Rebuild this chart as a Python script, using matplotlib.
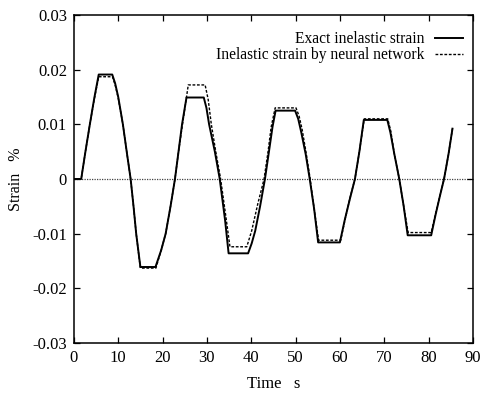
import numpy as np
import matplotlib.pyplot as plt

plt.rcParams['font.family'] = ['Liberation Serif', 'DejaVu Serif']

# exact inelastic strain (time s, strain %)
t_exact = [0.0, 1.65, 2.6, 3.6, 4.6, 5.6,
           8.65, 9.3, 10.0, 11.05, 12.0, 12.8, 13.45, 14.05, 15.0,
           18.4, 19.7, 20.7, 21.8, 22.8, 23.6, 24.4, 25.4,
           29.3, 29.9, 30.5, 31.8, 32.9, 34.1, 34.9,
           39.3, 40.1, 40.9, 42.0, 43.1, 44.0, 44.8, 45.5,
           49.9, 50.6, 51.3, 52.3, 53.2, 54.2, 55.1,
           60.0, 61.1, 62.3, 63.4, 64.4, 65.4,
           70.7, 71.4, 72.3, 73.4, 74.4, 75.3,
           80.6, 81.6, 82.6, 83.5, 84.5, 85.4]
e_exact = [0.0, 0.0, 0.005, 0.010, 0.0148, 0.0191,
           0.0191, 0.0175, 0.015, 0.010, 0.0045, 0.0, -0.005, -0.010, -0.0161,
           -0.0161, -0.013, -0.010, -0.005, 0.0, 0.005, 0.010, 0.0149,
           0.0149, 0.013, 0.010, 0.005, 0.0, -0.0075, -0.0136,
           -0.0136, -0.0118, -0.0095, -0.005, 0.0, 0.005, 0.0095, 0.0125,
           0.0125, 0.011, 0.0085, 0.0045, 0.0, -0.0055, -0.0116,
           -0.0116, -0.0075, -0.0035, 0.0, 0.005, 0.0108,
           0.0108, 0.0085, 0.0045, 0.0, -0.005, -0.0103,
           -0.0103, -0.0065, -0.003, 0.0, 0.0045, 0.0092]

# inelastic strain predicted by the neural network
t_nn = [0.0, 1.65, 2.6, 3.6, 4.6, 5.6,
        8.7, 9.3, 10.0, 11.05, 12.0, 12.8, 13.45, 14.05, 15.0,
        18.5, 19.7, 20.7, 21.8, 22.8, 23.6, 24.5, 25.8,
        29.6, 30.3, 31.0, 32.0, 33.1, 34.3, 35.2,
        39.0, 40.1, 41.5, 42.9, 43.8, 44.5, 45.4,
        50.1, 50.8, 51.5, 52.4, 53.3, 54.2, 55.2,
        60.2, 61.2, 62.3, 63.4, 64.4, 65.5,
        70.8, 71.5, 72.3, 73.4, 74.4, 75.4,
        80.6, 81.6, 82.6, 83.5, 84.5, 85.4]
e_nn = [0.0, 0.0, 0.005, 0.010, 0.0146, 0.0187,
        0.0187, 0.0172, 0.0148, 0.010, 0.0045, 0.0, -0.005, -0.010, -0.0163,
        -0.0163, -0.013, -0.010, -0.005, 0.0, 0.005, 0.010, 0.0172,
        0.0172, 0.0145, 0.010, 0.005, 0.0, -0.007, -0.0124,
        -0.0124, -0.0095, -0.0045, 0.0, 0.005, 0.0095, 0.0130,
        0.0130, 0.0115, 0.009, 0.0047, 0.0, -0.0055, -0.0112,
        -0.0112, -0.0073, -0.0034, 0.0, 0.005, 0.0110,
        0.0110, 0.0087, 0.0045, 0.0, -0.005, -0.0098,
        -0.0098, -0.0063, -0.003, 0.0, 0.0045, 0.0092]

xticks = list(range(0, 91, 10))
yticks = [-0.03, -0.02, -0.01, 0, 0.01, 0.02, 0.03]
ytick_labels = ['-0.03', '-0.02', '-0.01', '0', '0.01', '0.02', '0.03']

fig = plt.figure(figsize=(4.83, 4.04), dpi=100)
ax = fig.add_axes([0.153, 0.151, 0.826, 0.812])

ax.axhline(0, color='#444444', lw=0.9, ls=(0, (1, 1)), zorder=1)
ax.plot(t_exact, e_exact, color='black', lw=1.4, label='Exact inelastic strain')
ax.plot(t_nn, e_nn, color='black', lw=1.0, ls=(0, (2, 1.2)),
        label='Inelastic strain by neural network')

ax.set_xlim(0, 90)
ax.set_ylim(-0.03, 0.03)
ax.set_xticks(xticks)
ax.set_yticks(yticks)
ax.set_yticklabels(ytick_labels)
ax.tick_params(direction='in', top=True, right=True, length=4, width=0.9,
               labelsize=12, pad=5)
for s in ax.spines.values():
    s.set_linewidth(1.1)

ax.set_xlabel('Time   s', fontsize=12, labelpad=7)
ax.set_ylabel('Strain   %', fontsize=11.5, labelpad=6)

ax.legend(loc='upper right', bbox_to_anchor=(0.99, 0.97), frameon=False,
          markerfirst=False, fontsize=11.2, handlelength=1.8,
          handletextpad=0.65, labelspacing=0.02, borderaxespad=0.0)

fig.savefig('out.png', dpi=100)
